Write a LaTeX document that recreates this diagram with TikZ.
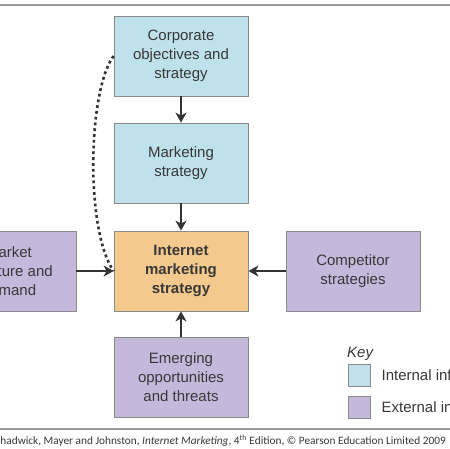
\documentclass[tikz,border=0pt]{standalone}
\usepackage{fontspec}
\setmainfont{Liberation Sans}
\newfontfamily\capfont{Carlito}
\usetikzlibrary{arrows.meta}
\definecolor{inblue}{HTML}{BFE1EC}
\definecolor{expurple}{HTML}{C5B9DB}
\definecolor{imsorange}{HTML}{F4C98D}
\definecolor{boxgray}{HTML}{8A8A8A}
\definecolor{txt}{HTML}{383838}
\definecolor{arrgray}{HTML}{333333}
\definecolor{rulegray}{HTML}{9A9A9A}
\begin{document}
\begin{tikzpicture}[x=1pt,y=-1pt,
  box/.style={draw=boxgray, line width=0.8pt, minimum width=134pt, minimum height=80pt,
    inner sep=0pt, align=center, font=\fontsize{15}{19}\selectfont, text=txt},
  arr/.style={-{Stealth[length=10pt,width=11pt,inset=3pt]}, line width=1.8pt, draw=arrgray},
  swatch/.style={draw=boxgray, line width=0.8pt, minimum size=22pt, inner sep=0pt},
  keytext/.style={anchor=west, inner sep=0pt, font=\fontsize{15}{19}\selectfont, text=txt}]
\useasboundingbox (0,0) rectangle (450,448);
\clip (0,0) rectangle (450,448);
\coordinate (tl) at (0,5); \coordinate (tr) at (450,5);
\draw[line width=2pt, draw=rulegray] (tl) -- (tr);
\node[box, fill=inblue] (corp) at (181,56) {Corporate\\objectives and\\strategy};
\node[box, fill=inblue] (mkt) at (181,163) {Marketing\\strategy};
\node[box, fill=imsorange, font=\fontsize{15}{19}\selectfont\bfseries] (ims) at (181,271) {Internet\\marketing\\strategy};
\node[box, fill=expurple] (msd) at (9,271) {Market\\structure and\\demand};
\node[box, fill=expurple] (comp) at (353,271) {Competitor\\strategies};
\node[box, fill=expurple] (emg) at (181,377.5) {Emerging\\opportunities\\and threats};
\draw[arr] (corp) -- (mkt);
\draw[arr] (mkt) -- (ims);
\draw[arr] (emg) -- (ims);
\draw[arr] (msd) -- (ims);
\draw[arr] (comp) -- (ims);
\draw[draw=arrgray, line width=2.6pt, dash pattern=on 2.8pt off 3pt]
  (corp.west) .. controls (88,90) and (85,230) .. (ims.west);
\node[anchor=base west, inner sep=0pt, font=\fontsize{15}{19}\selectfont\itshape, text=txt] (key) at (347,357) {Key};
\node[swatch, fill=inblue] (kin) at (359,375) {};
\node[swatch, fill=expurple] (kex) at (359,407) {};
\node[keytext] (kint) at ([xshift=11pt]kin.east) {Internal influences};
\node[keytext] (kext) at ([xshift=11pt]kex.east) {External influences};
\coordinate (bl) at (0,429); \coordinate (br) at (450,429);
\draw[line width=1.3pt, draw=rulegray] (bl) -- (br);
\node[anchor=east, inner sep=0pt, font=\capfont\fontsize{11.3}{13}\selectfont, text=txt] (cap) at (446,440.5)
  {Chadwick, Mayer and Johnston, \textit{Internet Marketing}, 4\textsuperscript{th} Edition, \copyright{} Pearson Education Limited 2009};
\end{tikzpicture}
\end{document}
